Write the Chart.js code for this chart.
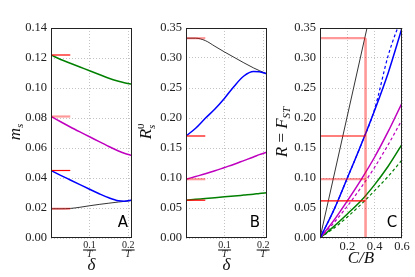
<!DOCTYPE html>
<html lang="en">
<head>
<meta charset="UTF-8">
<title>m_s, R_s^0 and R = F_ST</title>
<script src="https://cdn.jsdelivr.net/npm/chart.js"></script>
<style>
  html, body { margin: 0; padding: 0; background: #fff; }
  .panel { position: absolute; top: 0; }
  #pa { left: 0; }
  #pb { left: 138px; }
  #pc { left: 272px; }
</style>
</head>
<body>
<div class="panel" id="pa"><canvas id="chartA" width="138" height="277"></canvas></div>
<div class="panel" id="pb"><canvas id="chartB" width="134" height="277"></canvas></div>
<div class="panel" id="pc"><canvas id="chartC" width="143" height="277"></canvas></div>

<script>
// delta values (in units of 1/T), shared by panels A and B
var delta = [0, 0.025, 0.05, 0.075, 0.1, 0.125, 0.15, 0.175, 0.19, 0.21];
var deltaTicks = [0.1, 0.2];

// panel A: m_s
var msGreen   = [0.122, 0.119, 0.1165, 0.114, 0.1115, 0.109, 0.1065, 0.1045, 0.1035, 0.1025];
var msMagenta = [0.081, 0.0775, 0.074, 0.0707, 0.0675, 0.0642, 0.061, 0.058, 0.0565, 0.055];
var msBlue    = [0.045, 0.0418, 0.0387, 0.0356, 0.0325, 0.0295, 0.0268, 0.0248, 0.0245, 0.0253];
var msBlack   = [0.0195, 0.0195, 0.0197, 0.0205, 0.0215, 0.0224, 0.0232, 0.024, 0.0244, 0.025];

// panel B: R_s^0
var r0Green   = [0.063, 0.0644, 0.0658, 0.0672, 0.0686, 0.07, 0.0715, 0.073, 0.0742, 0.0755];
var r0Magenta = [0.098, 0.1025, 0.107, 0.112, 0.1175, 0.123, 0.129, 0.135, 0.139, 0.143];
var r0Blue    = [0.17, 0.183, 0.1995, 0.215, 0.233, 0.253, 0.27, 0.2775, 0.2772, 0.2735];
var r0Black   = [0.333, 0.333, 0.329, 0.3195, 0.31, 0.301, 0.292, 0.2835, 0.279, 0.2735];

// red reference marks, order: green, magenta, blue, black
var markA = [0.122, 0.081, 0.045, 0.0195];
var markB = [0.063, 0.098, 0.17, 0.333];
var markC = [0.062, 0.098, 0.17, 0.333];
var markEnd = 0.05;

// panel C: R = F_ST against C/B
var cb = [0, 0.1, 0.2, 0.3, 0.4, 0.5, 0.6];
var cbTicks = [0.2, 0.4, 0.6];
var rBlue        = [0, 0.046, 0.1, 0.155, 0.213, 0.276, 0.35];
var rBlueDash    = [0, 0.046, 0.1, 0.155, 0.215, 0.305, 0.37];
var rMagenta     = [0, 0.029, 0.062, 0.097, 0.135, 0.178, 0.225];
var rMagentaDash = [0, 0.025, 0.053, 0.084, 0.118, 0.156, 0.197];
var rGreen       = [0, 0.019, 0.04, 0.062, 0.089, 0.12, 0.156];
var rGreenDash   = [0, 0.016, 0.035, 0.056, 0.079, 0.103, 0.13];
var cbBlack = [0, 0.344];
var rBlack  = [0, 0.35];
var cbStar = 1 / 3;

var RED = '#ff0000';
var PINK = 'rgba(255,0,0,0.4)';
var markColor = [RED, PINK, RED, PINK];
var markWidth = [1.2, 2.2, 1.2, 2.2];
var SERIF = '"Liberation Serif", serif';

function series(xs, ys, color, width, dash) {
    return {
        data: xs.map(function (x, i) { return { x: x, y: ys[i] }; }),
        borderColor: color,
        borderWidth: width,
        borderDash: dash || [],
        pointRadius: 0,
        fill: false,
        tension: 0.4,
        cubicInterpolationMode: 'monotone'
    };
}

// draw text parts along a baseline; rotated when rot is set
function drawParts(ctx, cx, cy, parts, rot) {
    ctx.save();
    ctx.translate(cx, cy);
    if (rot) ctx.rotate(-Math.PI / 2);
    ctx.fillStyle = '#111';
    ctx.textBaseline = 'middle';
    ctx.textAlign = 'left';
    var total = 0;
    parts.forEach(function (p) {
        ctx.font = p.font;
        p.w = ctx.measureText(p.t).width;
        if (!p.stack) total += p.w;
    });
    var x = -total / 2;
    parts.forEach(function (p) {
        ctx.font = p.font;
        ctx.fillText(p.t, x, p.dy || 0);
        if (!p.stack) x += p.w;
    });
    ctx.restore();
}

function deco(opts) {
    return {
        id: 'deco',
        afterDraw: function (chart) {
            var ctx = chart.ctx, a = chart.chartArea;
            var off = chart.canvas.parentNode.offsetLeft;
            ctx.save();
            ctx.strokeStyle = '#222';
            ctx.lineWidth = 1;
            ctx.strokeRect(a.left + 0.5, a.top + 0.5, a.right - a.left - 1, a.bottom - a.top - 1);
            ctx.restore();

            // panel letter
            ctx.save();
            ctx.font = '15px "DejaVu Sans", sans-serif';
            ctx.fillStyle = '#000';
            ctx.textAlign = 'center';
            ctx.textBaseline = 'middle';
            ctx.fillText(opts.letter, opts.letterX - off, 223);
            ctx.restore();

            // fraction tick labels  v / T
            if (opts.fractions) {
                var xs = chart.scales.x;
                ctx.save();
                ctx.fillStyle = '#222';
                ctx.strokeStyle = '#333';
                ctx.textAlign = 'center';
                ctx.textBaseline = 'middle';
                deltaTicks.forEach(function (v) {
                    var px = xs.getPixelForValue(v);
                    ctx.font = '10px ' + SERIF;
                    ctx.fillText(v.toFixed(1), px, 245);
                    ctx.lineWidth = 1.2;
                    ctx.beginPath();
                    ctx.moveTo(px - 6.5, 250);
                    ctx.lineTo(px + 6.5, 250);
                    ctx.stroke();
                    ctx.font = 'italic 10px ' + SERIF;
                    ctx.fillText('T', px, 254.5);
                });
                ctx.restore();
            }

            drawParts(ctx, opts.yTitleX - off, 132, opts.yTitle, true);
            drawParts(ctx, (a.left + a.right) / 2, opts.xTitleY, opts.xTitle, false);
        }
    };
}

function yAxis(max, step, width) {
    return {
        type: 'linear', min: 0, max: max,
        ticks: {
            stepSize: step,
            callback: function (v) { return v.toFixed(2); },
            font: { family: SERIF, size: 12.5 },
            color: '#222',
            padding: 4
        },
        grid: { color: '#b5b5b5', lineWidth: 0.8, drawTicks: false },
        border: { display: false, dash: [1, 2] },
        afterFit: function (s) { s.width = width; }
    };
}

function markSets(vals, x0, x1) {
    return vals.map(function (v, i) {
        var d = series([x0, x1], [v, v], markColor[i], markWidth[i]);
        d.tension = 0;
        d.cubicInterpolationMode = 'default';
        return d;
    });
}

function straight(xs, ys, color, width) {
    var d = series(xs, ys, color, width);
    d.tension = 0;
    d.cubicInterpolationMode = 'default';
    return d;
}

var common = {
    responsive: false,
    animation: false,
    plugins: { legend: { display: false }, tooltip: { enabled: false } }
};

function deltaAxis() {
    return {
        type: 'linear', min: 0, max: 0.21,
        afterBuildTicks: function (s) { s.ticks = deltaTicks.map(function (v) { return { value: v }; }); },
        ticks: { display: false },
        grid: { color: '#b5b5b5', lineWidth: 0.8, drawTicks: false },
        border: { display: false, dash: [1, 2] },
        afterFit: function (s) { s.height = 39; }
    };
}

var it = 'italic 17px ' + SERIF;
var sub = 'italic 11px ' + SERIF;

// Panel A
new Chart(document.getElementById('chartA'), {
    type: 'line',
    data: {
        datasets: markSets(markA, 0, markEnd).concat([
            series(delta, msGreen, '#008000', 1.5),
            series(delta, msMagenta, '#bf00bf', 1.5),
            series(delta, msBlue, '#0000ff', 1.5),
            series(delta, msBlack, '#000000', 0.8)
        ])
    },
    options: Object.assign({}, common, {
        layout: { padding: { left: 0, top: 28, right: 6, bottom: 0 } },
        scales: { x: deltaAxis(), y: yAxis(0.14, 0.02, 51) }
    }),
    plugins: [deco({
        letter: 'A', letterX: 123, fractions: true,
        yTitleX: 16, xTitleY: 266,
        yTitle: [{ t: 'm', font: it }, { t: 's', font: sub, dy: 4 }],
        xTitle: [{ t: 'δ', font: it }]
    })]
});

// Panel B
new Chart(document.getElementById('chartB'), {
    type: 'line',
    data: {
        datasets: markSets(markB, 0, markEnd).concat([
            series(delta, r0Green, '#008000', 1.5),
            series(delta, r0Magenta, '#bf00bf', 1.5),
            series(delta, r0Blue, '#0000ff', 1.5),
            series(delta, r0Black, '#000000', 0.8)
        ])
    },
    options: Object.assign({}, common, {
        layout: { padding: { left: 0, top: 28, right: 5, bottom: 0 } },
        scales: { x: deltaAxis(), y: yAxis(0.35, 0.05, 48) }
    }),
    plugins: [deco({
        letter: 'B', letterX: 255, fractions: true,
        yTitleX: 147, xTitleY: 266,
        yTitle: [{ t: 'R', font: it }, { t: '0', font: '11px ' + SERIF, dy: -6, stack: true }, { t: 's', font: sub, dy: 5 }],
        xTitle: [{ t: 'δ', font: it }]
    })]
});

// Panel C
new Chart(document.getElementById('chartC'), {
    type: 'line',
    data: {
        datasets: markSets(markC, 0, cbStar).concat([
            straight([cbStar, cbStar], [0, markC[3]], PINK, 2.6),
            straight(cbBlack, rBlack, '#000000', 0.8),
            series(cb, rBlue, '#0000ff', 1.5),
            series(cb, rBlueDash, '#0000ff', 1.2, [3, 2.5]),
            series(cb, rMagenta, '#bf00bf', 1.5),
            series(cb, rMagentaDash, '#bf00bf', 1.2, [3, 2.5]),
            series(cb, rGreen, '#008000', 1.5),
            series(cb, rGreenDash, '#008000', 1.2, [3, 2.5])
        ])
    },
    options: Object.assign({}, common, {
        layout: { padding: { left: 0, top: 28, right: 13, bottom: 0 } },
        scales: {
            x: {
                type: 'linear', min: 0, max: 0.6,
                afterBuildTicks: function (s) { s.ticks = cbTicks.map(function (v) { return { value: v }; }); },
                ticks: {
                    callback: function (v) { return v.toFixed(1); },
                    font: { family: SERIF, size: 12.5 },
                    color: '#222',
                    padding: 1,
                    maxRotation: 0
                },
                grid: { color: '#b5b5b5', lineWidth: 0.8, drawTicks: false },
                border: { display: false, dash: [1, 2] },
                afterFit: function (s) { s.height = 39; }
            },
            y: yAxis(0.35, 0.05, 48)
        }
    }),
    plugins: [deco({
        letter: 'C', letterX: 392, fractions: false,
        yTitleX: 283, xTitleY: 259,
        yTitle: [{ t: 'R', font: it }, { t: ' = ', font: '17px ' + SERIF }, { t: 'F', font: it }, { t: 'ST', font: sub, dy: 4 }],
        xTitle: [{ t: 'C/B', font: it }]
    })]
});
</script>
</body>
</html>
